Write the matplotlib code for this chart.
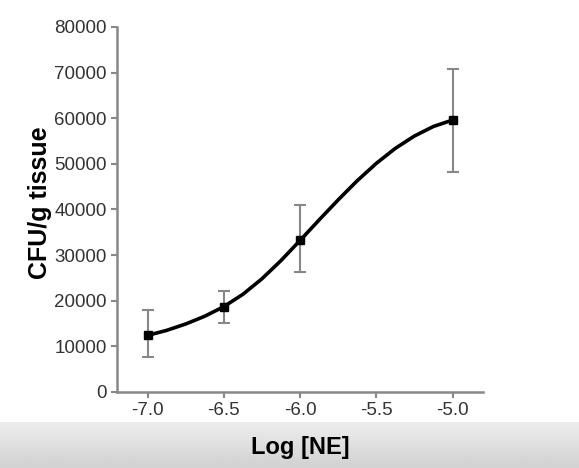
import numpy as np
import matplotlib.pyplot as plt

plt.rcParams['font.family'] = ['Liberation Sans', 'DejaVu Sans']

# measured points (mean, upper and lower end of error bar)
log_ne = [-7.0, -6.5, -6.0, -5.0]
cfu = [12600, 18700, 33400, 59600]
err_hi = [18000, 22100, 41000, 70800]
err_lo = [7700, 15100, 26300, 48200]

# fitted curve
curve_x = [-7.0, -6.875, -6.75, -6.625, -6.5, -6.375, -6.25, -6.125, -6.0,
           -5.875, -5.75, -5.625, -5.5, -5.375, -5.25, -5.125, -5.0]
curve_y = [12400, 13500, 14900, 16600, 18700, 21400, 24800, 28800, 33200,
           37700, 42100, 46300, 50100, 53400, 56100, 58200, 59600]

xticks = [-7.0, -6.5, -6.0, -5.5, -5.0]
yticks = list(range(0, 80001, 10000))

fig = plt.figure(figsize=(5.79, 4.68), dpi=100)

# grey band at the bottom (screenshot bar)
band = fig.add_axes([0, 0, 1, 46 / 468], zorder=-1)
band.imshow(np.linspace(0.93, 0.82, 50).reshape(-1, 1), cmap='gray',
            vmin=0, vmax=1, aspect='auto', extent=[0, 1, 0, 1])
band.axis('off')

ax = fig.add_axes([117 / 579, 76 / 468, 366 / 579, 365 / 468])
ax.patch.set_alpha(0)

yerr = [np.array(cfu) - np.array(err_lo), np.array(err_hi) - np.array(cfu)]
ax.errorbar(log_ne, cfu, yerr=yerr, fmt='none', ecolor='#888888',
            elinewidth=1.5, capsize=4, capthick=1.5, zorder=2)
ax.plot(curve_x, curve_y, color='black', lw=2.6, zorder=3,
        solid_joinstyle='round', solid_capstyle='round')
ax.plot(log_ne, cfu, 's', color='black', ms=6, zorder=4)

ax.set_xlim(-7.2, -4.8)
ax.set_ylim(0, 80000)
ax.set_xticks(xticks)
ax.set_xticklabels(['%.1f' % t for t in xticks])
ax.set_yticks(yticks)

for s in ['top', 'right']:
    ax.spines[s].set_visible(False)
for s in ['left', 'bottom']:
    ax.spines[s].set_color('#888888')
    ax.spines[s].set_linewidth(1.8)
ax.tick_params(colors='#888888', width=1.5, length=4, labelsize=13.5,
               labelcolor='#333333')

ax.set_xlabel('Log [NE]', fontsize=17, fontweight='bold', labelpad=12)
ax.set_ylabel('CFU/g tissue', fontsize=18, fontweight='bold')
ax.yaxis.set_label_coords(-0.178, 0.52)

fig.savefig('out.png', dpi=100)
